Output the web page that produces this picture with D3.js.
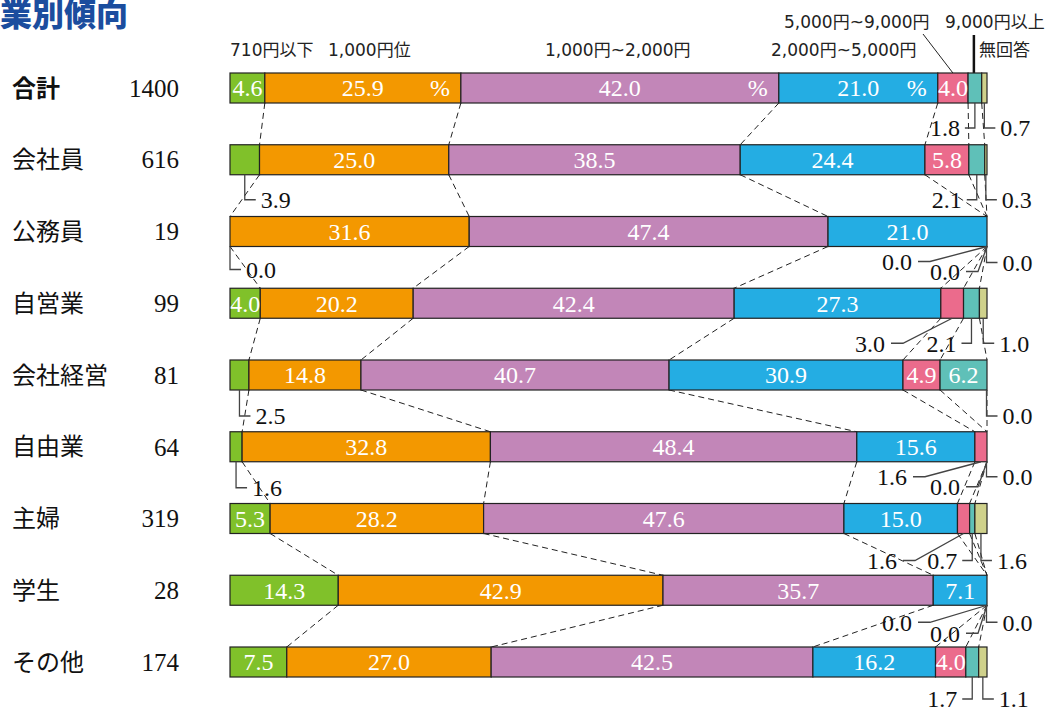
<!DOCTYPE html>
<html><head><meta charset="utf-8">
<script src="https://cdn.jsdelivr.net/npm/d3@7"></script>
<style>
html,body{margin:0;padding:0;background:#fff;}
svg{display:block;}
</style></head>
<body>
<script>
// ---------- DATA ----------
const rows = ["合計","会社員","公務員","自営業","会社経営","自由業","主婦","学生","その他"];
const counts = [1400,616,19,99,81,64,319,28,174];
const categories = ["710円以下","1,000円位","1,000円~2,000円","2,000円~5,000円","5,000円~9,000円","9,000円以上","無回答"];
const under710      = [4.6,3.9,0.0,4.0,2.5,1.6,5.3,14.3,7.5];
const yen1000       = [25.9,25.0,31.6,20.2,14.8,32.8,28.2,42.9,27.0];
const yen1000to2000 = [42.0,38.5,47.4,42.4,40.7,48.4,47.6,35.7,42.5];
const yen2000to5000 = [21.0,24.4,21.0,27.3,30.9,15.6,15.0,7.1,16.2];
const yen5000to9000 = [4.0,5.8,0.0,3.0,4.9,1.6,1.6,0.0,4.0];
const over9000      = [1.8,2.1,0.0,2.1,6.2,0.0,0.7,0.0,1.7];
const noAnswer      = [0.7,0.3,0.0,1.0,0.0,0.0,1.6,0.0,1.1];
const title = "業別傾向";

// ---------- LAYOUT / STYLE ----------
const colors = ["#80c12a","#f39800","#c286b8","#24ade3","#eb6b8c","#5fc0b8","#cfd18b"];
const W = 1051, H = 713;
// header label placement: [category index, x, line(0 upper / 1 lower)]
const headerPos = [[0,230,1],[1,328,1],[2,545,1],[3,771,1],[4,784,0],[5,945,0],[6,979,1]];
// callouts for small segments: [row, segment, type, dy below bar, text-right offset from bar end (diag only)]
const callouts = [
 [0,5,"L",25],[0,6,"R",25],
 [1,0,"R",25],[1,5,"L",25],[1,6,"R",25],
 [2,0,"R",23],[2,4,"D",15,-75],[2,5,"D",25,-27],[2,6,"R",16],
 [3,4,"D",25,-102],[3,5,"L",25],[3,6,"R",25],
 [4,0,"R",26],[4,6,"R",26],
 [5,0,"R",26],[5,4,"D",15,-80],[5,5,"D",25,-27],[5,6,"R",15],
 [6,4,"D",27,-90],[6,5,"L",27],[6,6,"R",27],
 [7,4,"D",17,-75],[7,5,"D",28,-27],[7,6,"R",17],
 [8,5,"L",22],[8,6,"R",22]
];

const series = [under710,yen1000,yen1000to2000,yen2000to5000,yen5000to9000,over9000,noAnswer];
const table = rows.map((r,i)=>{
  const vals = series.map(s=>s[i]);
  let c=0; const segs = vals.map((v,k)=>{const s={k,v,x0:c,x1:c+v}; c+=v; return s;});
  return {name:r,count:counts[i],i,segs};
});

const svg = d3.select("body").append("svg").attr("width",W).attr("height",H);
const x = d3.scaleLinear().domain([0,100]).range([230,987]);
const y = d3.scaleBand().domain(rows).range([73,677]).paddingInner(0.5819).paddingOuter(0);
const bw = y.bandwidth();

const serif = "'Liberation Serif','Times New Roman',serif";
const jp = "'Noto Sans CJK JP','Noto Sans',sans-serif";
const hdrFont = "'DejaVu Sans','Noto Sans CJK JP',sans-serif";

// title
svg.append("text").attr("x",0).attr("y",26).text(title)
  .attr("font-family",jp).attr("font-weight",900).attr("font-size",32).attr("fill","#1b4d9e");

// header labels
svg.selectAll("text.hdr").data(headerPos).join("text").attr("class","hdr")
  .attr("x",d=>d[1]).attr("y",d=>d[2]===0?22:50).attr("dy","0.35em")
  .attr("font-family",hdrFont).attr("font-size",17).attr("fill","#222")
  .text(d=>categories[d[0]]);

// header leader lines to 合計 row
const r0 = table[0];
const seg4 = r0.segs[4], seg5 = r0.segs[5];
svg.append("line").attr("x1",923).attr("y1",34)
  .attr("x2",x((seg4.x0+seg4.x1)/2)).attr("y2",y(rows[0]))
  .attr("stroke","#222").attr("stroke-width",1);
svg.append("line").attr("x1",x((seg5.x0+seg5.x1)/2)-1).attr("x2",x((seg5.x0+seg5.x1)/2)-1)
  .attr("y1",35).attr("y2",y(rows[0]))
  .attr("stroke","#111").attr("stroke-width",2.5);

// dashed connectors
const conn = [];
for(let i=0;i<table.length-1;i++){
  for(let k=0;k<6;k++){
    conn.push({x1:x(table[i].segs[k].x1), y1:y(rows[i])+bw, x2:x(table[i+1].segs[k].x1), y2:y(rows[i+1])});
  }
}
svg.append("g").selectAll("line").data(conn).join("line")
  .attr("x1",d=>d.x1).attr("y1",d=>d.y1).attr("x2",d=>d.x2).attr("y2",d=>d.y2)
  .attr("stroke","#222").attr("stroke-width",1).attr("stroke-dasharray","6,4");

// row labels
svg.selectAll("text.rl").data(table).join("text").attr("class","rl")
  .attr("x",12).attr("y",d=>y(d.name)+bw/2).attr("dy","0.36em")
  .attr("font-family",jp).attr("font-size",24).attr("font-weight",d=>d.i===0?700:400)
  .attr("fill","#111").text(d=>d.name);
svg.selectAll("text.cnt").data(table).join("text").attr("class","cnt")
  .attr("x",179).attr("y",d=>y(d.name)+bw/2).attr("dy","0.35em").attr("text-anchor","end")
  .attr("font-family",serif).attr("font-size",25).attr("fill","#111").text(d=>d.count);

// bars
const g = svg.append("g").selectAll("g").data(table).join("g")
  .attr("transform",d=>`translate(0,${y(d.name)})`);
g.selectAll("rect").data(d=>d.segs.filter(s=>s.v>0)).join("rect")
  .attr("x",s=>x(s.x0)).attr("width",s=>x(s.x1)-x(s.x0)).attr("y",0).attr("height",bw)
  .attr("fill",s=>colors[s.k]).attr("stroke","#222").attr("stroke-width",1.2);
g.selectAll("text.in").data(d=>d.segs.filter(s=>s.v>=4)).join("text").attr("class","in")
  .attr("x",s=>x((s.x0+s.x1)/2)).attr("y",bw/2).attr("dy","0.35em").attr("text-anchor","middle")
  .attr("font-family",serif).attr("font-size",24).attr("fill","#fff").text(s=>s.v.toFixed(1));
// percent marks on total row
g.filter(d=>d.i===0).selectAll("text.pc").data(d=>d.segs.filter(s=>s.k>=1&&s.k<=3)).join("text").attr("class","pc")
  .attr("x",s=>x(s.x1)-21).attr("y",bw/2).attr("dy","0.35em").attr("text-anchor","middle")
  .attr("font-family",serif).attr("font-size",24).attr("fill","#fff").text("%");

// callouts
const cg = svg.append("g");
callouts.forEach(([ri,k,type,dy,off])=>{
  const row = table[ri], s = row.segs[k];
  const bottom = y(rows[ri])+bw;
  const cx = x((s.x0+s.x1)/2);
  const ty = bottom+dy;
  const label = s.v.toFixed(1);
  let tx, anchor;
  if(type==="R"){
    const vx = Math.min(cx, 986.5);
    cg.append("path").attr("d",`M${vx},${bottom}V${ty}H${vx+11}`).attr("fill","none").attr("stroke","#444").attr("stroke-width",1.3);
    tx = vx+16; anchor="start";
  } else if(type==="L"){
    cg.append("path").attr("d",`M${cx},${bottom}V${ty}H${cx-10}`).attr("fill","none").attr("stroke","#444").attr("stroke-width",1.3);
    tx = cx-15; anchor="end";
  } else {
    tx = x(100)+off; anchor="end";
    cg.append("path").attr("d",`M${tx+6},${ty}H${tx+18}L${cx},${bottom}`).attr("fill","none").attr("stroke","#444").attr("stroke-width",1.3);
  }
  cg.append("text").attr("x",tx).attr("y",ty).attr("dy","0.35em").attr("text-anchor",anchor)
    .attr("font-family",serif).attr("font-size",24).attr("fill","#111").text(label);
});
</script>
</body></html>
